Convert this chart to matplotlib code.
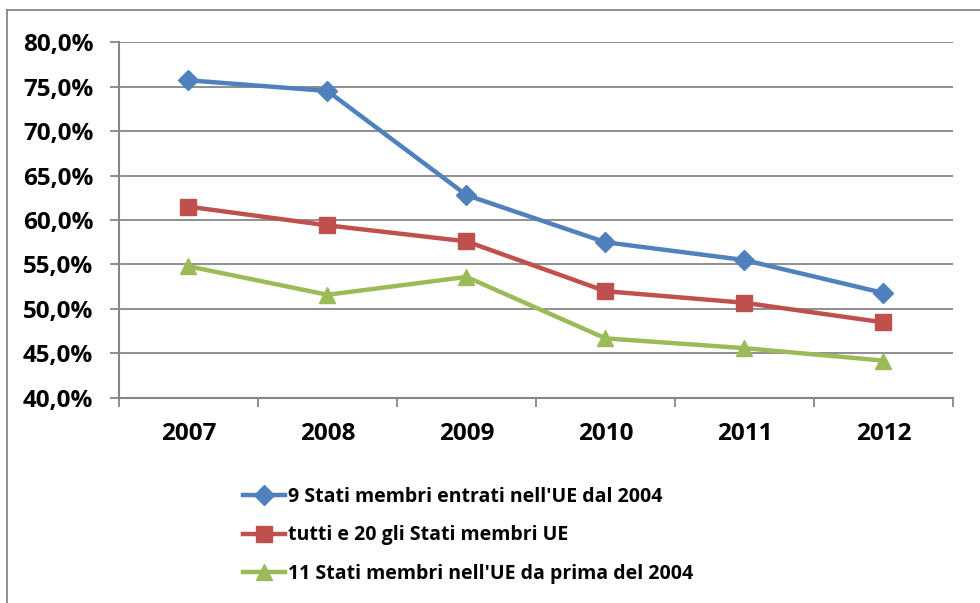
import matplotlib.pyplot as plt
from matplotlib.lines import Line2D
from matplotlib.ticker import FuncFormatter, FixedLocator

years = ['2007', '2008', '2009', '2010', '2011', '2012']
nuovi_9 = [75.7, 74.5, 62.8, 57.5, 55.5, 51.8]
tutti_20 = [61.5, 59.4, 57.6, 52.0, 50.7, 48.5]
vecchi_11 = [54.8, 51.6, 53.6, 46.7, 45.6, 44.2]
labels = ["9 Stati membri entrati nell'UE dal 2004",
          'tutti e 20 gli Stati membri UE',
          "11 Stati membri nell'UE da prima del 2004"]

plt.rcParams['font.family'] = ['Open Sans', 'DejaVu Sans']
plt.rcParams['font.weight'] = 'bold'

fig = plt.figure(figsize=(9.8, 6.03), dpi=100)
ax = fig.add_axes([0.1214, 0.340, 0.851, 0.5903])

x = range(len(years))
ax.plot(x, nuovi_9, color='#4F81BD', lw=3.2, marker='D', ms=10, label=labels[0])
ax.plot(x, tutti_20, color='#C0504D', lw=3.2, marker='s', ms=11, label=labels[1])
ax.plot(x, vecchi_11, color='#9BBB59', lw=3.2, marker='^', ms=12, label=labels[2])

ax.set_xlim(-0.5, len(years) - 0.5)
ax.set_ylim(40, 80)
ax.set_yticks(range(40, 81, 5))
ax.yaxis.set_major_formatter(FuncFormatter(lambda v, p: f'{v:.1f}%'.replace('.', ',')))
ax.set_xticks(list(x))
ax.set_xticklabels(years)
ax.xaxis.set_minor_locator(FixedLocator([i - 0.5 for i in range(len(years) + 1)]))
ax.tick_params(axis='x', which='major', length=0, pad=17, labelsize=17.5)
ax.tick_params(axis='x', which='minor', length=6.5, color='#868686', width=1.3)
ax.tick_params(axis='y', length=6.5, color='#868686', width=1.3, labelsize=17.5, pad=12)
for t in ax.get_xticklabels() + ax.get_yticklabels():
    t.set_fontweight('bold')
ax.grid(axis='y', color='#868686', lw=1.3)
ax.set_axisbelow(True)
for s in ['top', 'right']:
    ax.spines[s].set_visible(False)
for s in ['left', 'bottom']:
    ax.spines[s].set_color('#868686')
    ax.spines[s].set_linewidth(1.5)

ax.legend(loc='upper left', bbox_to_anchor=(0.240, 0.205), bbox_transform=fig.transFigure,
          frameon=False, prop={'size': 14, 'weight': 'bold'}, handlelength=2.15,
          handletextpad=0.15, labelspacing=0.94, borderaxespad=0)

# outer chart frame
fig.add_artist(Line2D([7 / 980, 1], [1 - 10 / 603] * 2, color='#868686', lw=1.3))
fig.add_artist(Line2D([7 / 980] * 2, [0, 1 - 10 / 603], color='#868686', lw=1.3))

fig.savefig('out.png', dpi=100)
